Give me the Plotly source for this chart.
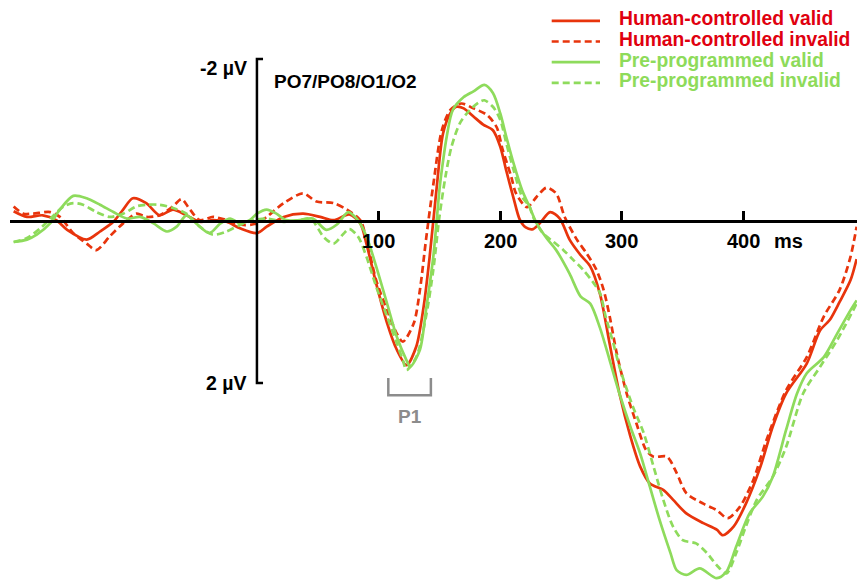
import plotly.graph_objects as go

# ---------------- data (time in ms, amplitude in µV; negative plotted up) ----------------
hc_valid_t = [-200, -189, -176, -165, -156, -140, -129, -118, -110, -102, -91, -80, -69, -58, -47, -36,
              -25, -14, 0, 8, 22, 38, 52, 63, 76, 85, 90, 98, 107, 115, 123, 131, 137, 142, 148, 153,
              159, 164, 170, 178, 186, 194, 200, 205, 211, 216, 221, 227, 233, 241, 249, 257, 266, 274,
              282, 290, 298, 307, 315, 323, 334, 342, 353, 367, 378, 383, 392, 402, 414, 424, 435,
              452, 463, 471, 479, 488, 493]
hc_valid_uv = [-0.12, -0.05, -0.07, -0.01, 0.11, 0.23, 0.13, 0.01, -0.14, -0.28, -0.22, -0.07, -0.14,
               -0.07, 0.01, -0.01, 0.01, 0.09, 0.15, 0.07, -0.05, -0.09, -0.05, -0.01, -0.08, 0.03,
               0.28, 0.77, 1.26, 1.59, 1.78, 1.55, 1.06, 0.44, -0.45, -1.08, -1.33, -1.41, -1.39,
               -1.29, -1.19, -1.12, -0.92, -0.62, -0.28, -0.02, 0.08, 0.10, 0.02, -0.11, -0.03, 0.23, 0.42,
               0.56, 0.90, 1.52, 2.13, 2.66, 3.03, 3.24, 3.32, 3.44, 3.61, 3.73, 3.81, 3.88, 3.77,
               3.49, 3.03, 2.54, 2.13, 1.76, 1.35, 1.22, 1.00, 0.73, 0.47]

hc_invalid_t = [-200, -192, -184, -170, -162, -151, -140, -132, -121, -110, -99, -91, -80, -69, -62,
                -55, -47, -36, -25, -11, 0, 8, 22, 38, 49, 63, 74, 85, 90, 98, 107, 115, 120, 129,
                134, 139, 145, 152, 159, 168, 178, 189, 197, 202, 209, 213, 222, 230, 238, 246, 253,
                263, 271, 279, 285, 290, 296, 304, 312, 320, 326, 337, 345, 353, 367, 378, 387, 397,
                408, 419, 435, 452, 466, 479, 488, 493]
hc_invalid_uv = [-0.18, -0.09, -0.09, -0.11, -0.05, 0.15, 0.28, 0.36, 0.19, 0.03, -0.09, -0.05, -0.07,
                 -0.18, -0.27, -0.14, -0.01, -0.05, -0.01, 0.05, 0.03, -0.05, -0.22, -0.34, -0.24,
                 -0.22, -0.14, -0.01, 0.23, 0.73, 1.10, 1.39, 1.49, 1.26, 0.85, 0.23, -0.45, -1.12,
                 -1.37, -1.45, -1.39, -1.31, -1.16, -0.88, -0.55, -0.34, -0.17, -0.30, -0.41, -0.34,
                 -0.05, 0.23, 0.40, 0.60, 0.85, 1.18, 1.65, 2.13, 2.50, 2.83, 2.91, 2.91, 3.11, 3.36,
                 3.49, 3.57, 3.67, 3.53, 3.20, 2.70, 2.09, 1.68, 1.18, 0.85, 0.44, 0.07]

pp_valid_t = [-200, -189, -181, -170, -162, -151, -140, -129, -118, -107, -96, -85, -74, -66, -58,
              -50, -39, -30, -22, -14, -6, 0, 8, 16, 24, 35, 46, 57, 66, 75, 83, 90, 98, 107, 115,
              123, 126, 134, 139, 145, 150, 152, 156, 161, 170, 178, 187, 194, 200, 205, 211, 218,
              224, 230, 238, 246, 257, 266, 274, 282, 290, 298, 307, 315, 323, 331, 340, 345, 353,
              364, 378, 386, 394, 405, 416, 424, 435, 444, 452, 466, 477, 488, 493]
pp_valid_uv = [0.26, 0.23, 0.17, 0.03, -0.14, -0.31, -0.28, -0.20, -0.11, -0.03, -0.05, 0.03, 0.13,
               0.07, -0.07, 0.03, 0.15, 0.03, -0.03, 0.03, -0.01, -0.09, -0.14, -0.09, -0.01, -0.01,
               -0.03, 0.11, 0.04, -0.11, -0.01, 0.19, 0.56, 1.02, 1.43, 1.72, 1.80, 1.59, 1.10, 0.44,
               -0.38, -0.63, -1.04, -1.37, -1.53, -1.60, -1.68, -1.58, -1.33, -1.04, -0.71, -0.38,
               -0.18, 0.03, 0.21, 0.36, 0.65, 0.93, 1.02, 1.32, 1.72, 2.13, 2.54, 2.87, 3.28, 3.69,
               4.10, 4.31, 4.37, 4.29, 4.41, 4.33, 4.02, 3.61, 3.40, 3.16, 2.58, 2.13, 1.88, 1.68,
               1.39, 1.10, 0.98]

pp_invalid_t = [-200, -189, -178, -167, -159, -151, -143, -132, -121, -110, -99, -91, -80, -69, -58,
                -47, -36, -25, -14, -3, 8, 22, 35, 44, 55, 63, 71, 76, 83, 90, 98, 107, 115, 120,
                123, 131, 139, 145, 150, 155, 160, 167, 175, 183, 187, 194, 200, 205, 211, 218, 224,
                227, 235, 244, 252, 260, 268, 276, 282, 287, 293, 298, 309, 318, 326, 334, 342, 350,
                361, 370, 378, 386, 394, 402, 411, 424, 435, 449, 463, 477, 493]
pp_invalid_uv = [0.26, 0.21, 0.09, -0.07, -0.18, -0.22, -0.20, -0.11, -0.05, -0.09, -0.18, -0.20,
                 -0.20, -0.16, -0.09, 0.07, 0.17, 0.13, 0.05, -0.01, -0.03, 0.01, -0.01, -0.03, 0.20,
                 0.28, 0.16, 0.10, 0.19, 0.44, 0.81, 1.18, 1.51, 1.72, 1.84, 1.68, 1.18, 0.60, -0.05,
                 -0.55, -0.92, -1.21, -1.37, -1.47, -1.49, -1.41, -1.25, -0.96, -0.63, -0.30, -0.18,
                 -0.05, 0.15, 0.26, 0.36, 0.48, 0.60, 0.75, 0.89, 1.20, 1.51, 1.80, 2.29, 2.62, 3.03,
                 3.44, 3.77, 3.94, 3.98, 4.10, 4.25, 4.35, 4.10, 3.77, 3.44, 3.16, 2.79, 2.13, 1.80,
                 1.47, 1.02]

series_names = ["Human-controlled valid", "Human-controlled invalid",
                "Pre-programmed valid", "Pre-programmed invalid"]
x_ticks = [100, 200, 300, 400]
x_unit = "ms"
y_ticks = [-2, 2]
y_unit = "µV"
p1_window = [108, 143]
p1_label = "P1"
channel_label = "PO7/PO8/O1/O2"

# ---------------- style ----------------
RED_LINE = "#E8340C"
RED_TEXT = "#E0000F"
GREEN_LINE = "#8EDB5C"
GREEN_TEXT = "#8EDB5A"
GRAY = "#8C8C8C"
FONT = "Liberation Sans, Arial, sans-serif"
W, H = 857, 582
X_RANGE = [-203.0, 493.3]
X_DOMAIN = [10 / W, 1]
Y_RANGE = [4.457, -2.728]   # reversed: negative up
LW = 2.7

series = [
    (hc_valid_t, hc_valid_uv, RED_LINE, RED_TEXT, "solid"),
    (hc_invalid_t, hc_invalid_uv, RED_LINE, RED_TEXT, "7px,4px"),
    (pp_valid_t, pp_valid_uv, GREEN_LINE, GREEN_TEXT, "solid"),
    (pp_invalid_t, pp_invalid_uv, GREEN_LINE, GREEN_TEXT, "7px,4px"),
]

fig = go.Figure()
for name, (t, v, lc, tc, dash) in zip(series_names, series):
    fig.add_trace(go.Scatter(x=t, y=v, mode="lines", name=name, showlegend=False,
                             line=dict(color=lc, width=LW, dash=dash, shape="spline", smoothing=0.8)))

zero_pos = (Y_RANGE[0] - 0) / (Y_RANGE[0] - Y_RANGE[1])

fig.update_layout(
    width=W, height=H, margin=dict(l=0, r=0, t=0, b=0),
    paper_bgcolor="white", plot_bgcolor="white",
    xaxis=dict(range=X_RANGE, domain=X_DOMAIN, anchor="free", position=zero_pos,
               showline=True, linecolor="black", linewidth=2.5,
               ticks="inside", tickvals=x_ticks, ticklen=9, tickwidth=2.5, tickcolor="black",
               showticklabels=False, showgrid=False, zeroline=False),
    yaxis=dict(range=Y_RANGE, visible=False, showgrid=False, zeroline=False),
)

# y-axis bracket
tick_len_ms = 5
path = (f"M {tick_len_ms},{y_ticks[0]} L 0,{y_ticks[0]} L 0,{y_ticks[1]} L {tick_len_ms},{y_ticks[1]}")
fig.add_shape(type="path", path=path, xref="x", yref="y", line=dict(color="black", width=2.5))

# P1 bracket
p1_top, p1_bot = 1.94, 2.15
p1_path = (f"M {p1_window[0]},{p1_top} L {p1_window[0]},{p1_bot} "
           f"L {p1_window[1]},{p1_bot} L {p1_window[1]},{p1_top}")
fig.add_shape(type="path", path=p1_path, xref="x", yref="y", line=dict(color=GRAY, width=2.5))
fig.add_annotation(x=sum(p1_window) / 2, y=2.41, text=f"<b>{p1_label}</b>", showarrow=False,
                   font=dict(family=FONT, size=19, color=GRAY), xanchor="center", yanchor="middle")

# x tick labels
for tv in x_ticks:
    fig.add_annotation(x=tv, y=0, text=f"<b>{tv}</b>", showarrow=False, yshift=-20,
                       font=dict(family=FONT, size=20, color="black"), xanchor="center", yanchor="middle")
fig.add_annotation(x=x_ticks[-1], y=0, text=f"<b>{x_unit}</b>", showarrow=False, xshift=28, yshift=-20,
                   font=dict(family=FONT, size=20, color="black"), xanchor="left", yanchor="middle")

# y tick labels
for yv, ys in zip(y_ticks, [-9, 0]):
    label = f"{yv:g} {y_unit}"
    fig.add_annotation(x=0, y=yv, text=f"<b>{label}</b>", showarrow=False, xshift=-8, yshift=ys,
                       font=dict(family=FONT, size=19.5, color="black"), xanchor="right", yanchor="middle")

# channel label
fig.add_annotation(x=12, y=-1.72, text=f"<b>{channel_label}</b>", showarrow=False,
                   font=dict(family=FONT, size=19, color="black"), xanchor="left", yanchor="middle")

# custom legend (paper coordinates)
leg_x0, leg_x1, leg_tx = 551.7 / W, 600 / W, 616.7 / W
leg_rows = [20.8, 41.5, 62.2, 82.9]
for (t, v, lc, tc, dash), name, py in zip(series, series_names, leg_rows):
    yp = 1 - py / H
    fig.add_shape(type="line", xref="paper", yref="paper", x0=leg_x0, x1=leg_x1, y0=yp, y1=yp,
                  line=dict(color=lc, width=LW, dash=dash))
    fig.add_annotation(xref="paper", yref="paper", x=leg_tx, y=1 - (py - 2) / H, text=f"<b>{name}</b>",
                       showarrow=False, font=dict(family=FONT, size=19.3, color=tc),
                       xanchor="left", yanchor="middle")

fig.write_html("out.html", config={"displayModeBar": False},
               post_script="document.body.style.margin='0';document.body.style.overflow='hidden';")
